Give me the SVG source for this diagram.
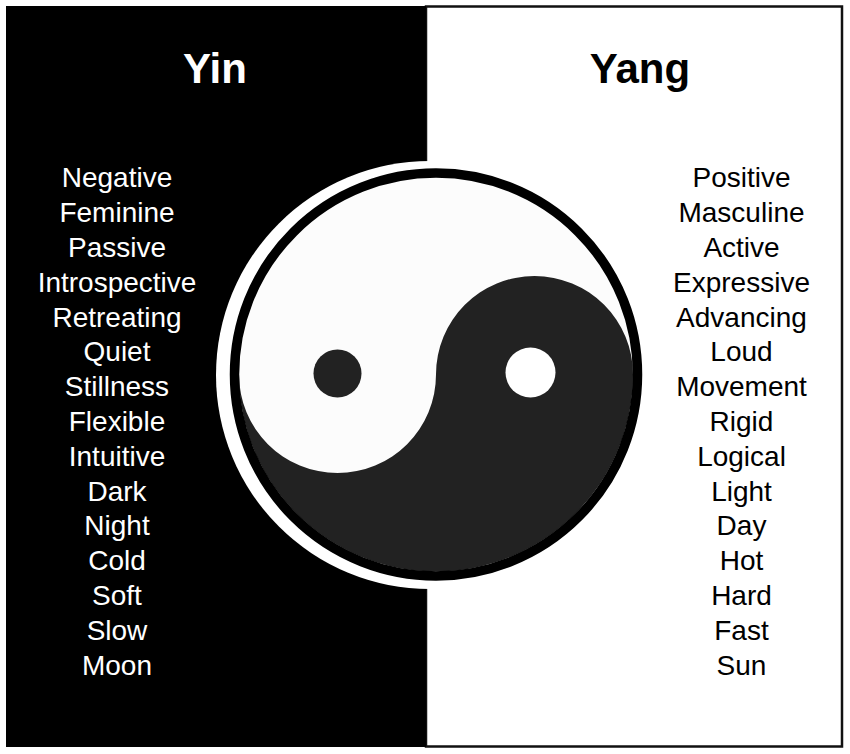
<svg xmlns="http://www.w3.org/2000/svg" width="850" height="754" viewBox="0 0 850 754">
<style>
.t{font-family:"Liberation Sans",Arial,sans-serif;font-size:28px;text-anchor:middle}
.h{font-family:"Liberation Sans",Arial,sans-serif;font-size:42px;font-weight:bold;text-anchor:middle}
.w{fill:#ffffff}
.b{fill:#000000}
</style>
<rect width="850" height="754" fill="#ffffff"/>
<g id="yang-panel">
<rect x="426" y="6.5" width="416" height="740" fill="#ffffff" stroke="#111" stroke-width="2.5"/>
</g>
<g id="yin-panel">
<rect x="6" y="6" width="420" height="741" fill="#000000"/>
</g>
<g id="yinyang">
<circle cx="430" cy="375" r="214" fill="#ffffff"/>
<circle cx="436" cy="374.5" r="197" fill="#fcfcfc"/>
<path d="M239,374.5 A197,197 0 0 0 633,374.5 A98.5,98.5 0 0 0 436,374.5 A98.5,98.5 0 0 1 239,374.5 Z" fill="#222222"/>
<circle cx="337.5" cy="373.5" r="24" fill="#222222"/>
<circle cx="530.5" cy="372.5" r="25" fill="#ffffff"/>
<circle cx="436" cy="374.5" r="201.5" fill="none" stroke="#000" stroke-width="9.5"/>
</g>
<g id="yin-title"><text class="h w" x="215" y="83">Yin</text></g>
<g id="yang-title"><text class="h b" x="640" y="83">Yang</text></g>
<g id="yin-list" class="t w">
<text class="t w" x="117" y="187">Negative</text>
<text class="t w" x="117" y="222">Feminine</text>
<text class="t w" x="117" y="257">Passive</text>
<text class="t w" x="117" y="292">Introspective</text>
<text class="t w" x="117" y="327">Retreating</text>
<text class="t w" x="117" y="361">Quiet</text>
<text class="t w" x="117" y="396">Stillness</text>
<text class="t w" x="117" y="431">Flexible</text>
<text class="t w" x="117" y="466">Intuitive</text>
<text class="t w" x="117" y="501">Dark</text>
<text class="t w" x="117" y="535">Night</text>
<text class="t w" x="117" y="570">Cold</text>
<text class="t w" x="117" y="605">Soft</text>
<text class="t w" x="117" y="640">Slow</text>
<text class="t w" x="117" y="675">Moon</text>
</g>
<g id="yang-list">
<text class="t b" x="741.5" y="187">Positive</text>
<text class="t b" x="741.5" y="222">Masculine</text>
<text class="t b" x="741.5" y="257">Active</text>
<text class="t b" x="741.5" y="292">Expressive</text>
<text class="t b" x="741.5" y="327">Advancing</text>
<text class="t b" x="741.5" y="361">Loud</text>
<text class="t b" x="741.5" y="396">Movement</text>
<text class="t b" x="741.5" y="431">Rigid</text>
<text class="t b" x="741.5" y="466">Logical</text>
<text class="t b" x="741.5" y="501">Light</text>
<text class="t b" x="741.5" y="535">Day</text>
<text class="t b" x="741.5" y="570">Hot</text>
<text class="t b" x="741.5" y="605">Hard</text>
<text class="t b" x="741.5" y="640">Fast</text>
<text class="t b" x="741.5" y="675">Sun</text>
</g>
</svg>
